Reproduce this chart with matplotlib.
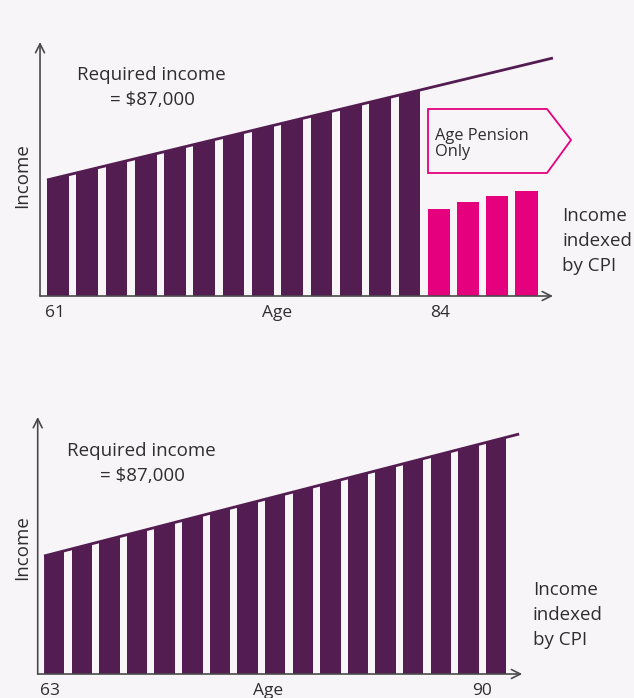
import matplotlib.pyplot as plt
from matplotlib.patches import Polygon

plt.rcParams['font.family'] = ['Open Sans', 'DejaVu Sans']

BG = '#f8f5f9'
PURPLE = '#541d51'
PINK = '#e5007d'
AXIS = '#4a4a4a'
TEXT = '#2e2e2e'

# top panel: retire at 61, savings run out at 84
top_income = [121, 128, 135, 142, 149, 156, 163, 170, 177, 185, 192, 199, 206]
top_pension = [87, 94, 100, 105]
top_line_x = [-0.37, 16.9]
top_line_y = [116, 238]
top_labels = ['61', 'Age', '84']
top_label_pos = [-0.1, 7.5, 13.05]

# bottom panel: retire at 63, income lasts to 90
bot_income = [123, 130, 137, 144, 152, 159, 166, 173, 180, 187, 194, 201, 208,
              215, 222, 230, 237]
bot_line_x = [-0.37, 16.84]
bot_line_y = [118, 240]
bot_labels = ['63', 'Age', '90']
bot_label_pos = [-0.15, 7.75, 15.5]

W, H = 634, 698
fig = plt.figure(figsize=(W / 100, H / 100), dpi=100, facecolor=BG)


def panel(y0, y1, xlim, ylim):
    ax = fig.add_axes([0, 1 - y1 / H, 1, (y1 - y0) / H])
    ax.set_xlim(*xlim)
    ax.set_ylim(*ylim)
    ax.axis('off')
    ax.patch.set_alpha(0)
    return ax


def draw(ax, income, line_x, line_y, axis_x, x_end, y_end, labels, label_pos, width):
    xs = list(range(len(income)))
    bars = ax.bar(xs, income, width=width, color=PURPLE, zorder=2)
    clip = Polygon([(line_x[0], 0), (line_x[0], line_y[0]), (line_x[1], line_y[1]),
                    (line_x[1], 0)], closed=True, transform=ax.transData)
    for b in bars:
        b.set_clip_path(clip)
    ax.plot(line_x, line_y, color=PURPLE, lw=2, solid_capstyle='butt', zorder=3)
    ax.annotate('', xy=(x_end, 0), xytext=(axis_x, 0),
                arrowprops=dict(arrowstyle='->', color=AXIS, lw=1.2,
                                mutation_scale=16, shrinkA=0, shrinkB=0), zorder=4)
    ax.annotate('', xy=(axis_x, y_end), xytext=(axis_x, 0),
                arrowprops=dict(arrowstyle='->', color=AXIS, lw=1.2,
                                mutation_scale=16, shrinkA=0, shrinkB=0), zorder=4)
    for lab, p in zip(labels, label_pos):
        ax.text(p, -17, lab, ha='center', va='center', fontsize=12.5, color=TEXT)


ax1 = panel(30, 330, (-1.973, 19.666), (-34, 266))
draw(ax1, top_income, top_line_x, top_line_y, -0.607, 16.9, 254,
     top_labels, top_label_pos, 0.74)
px = [len(top_income) + i for i in range(len(top_pension))]
ax1.bar(px, top_pension, width=0.76, color=PINK, zorder=2)

ax2 = panel(400, 698, (-1.966, 21.0), (-24, 274))
draw(ax2, bot_income, bot_line_x, bot_line_y, -0.60, 16.95, 257,
     bot_labels, bot_label_pos, 0.74)

# annotations in pixel space
ov = fig.add_axes([0, 0, 1, 1])
ov.set_xlim(0, W)
ov.set_ylim(H, 0)
ov.axis('off')
ov.patch.set_alpha(0)

for cx, y in ((151, 0), (141, 376)):
    ov.text(cx, 75 + y, 'Required income', ha='center', va='center', fontsize=13.5, color=TEXT)
    ov.text(cx + 1, 100 + y, '= $87,000', ha='center', va='center', fontsize=13.5, color=TEXT)

ov.text(22, 176, 'Income', rotation=90, ha='center', va='center', fontsize=13.5, color=TEXT)
ov.text(22, 548, 'Income', rotation=90, ha='center', va='center', fontsize=13.5, color=TEXT)

ov.text(562, 241, 'Income\nindexed\nby CPI', ha='left', va='center', fontsize=13.5,
        color=TEXT, linespacing=1.5)
ov.text(533, 615, 'Income\nindexed\nby CPI', ha='left', va='center', fontsize=13.5,
        color=TEXT, linespacing=1.5)

box = Polygon([(428, 109), (547, 109), (571, 140), (547, 173), (428, 173)], closed=True,
              facecolor=BG, edgecolor=PINK, lw=1.3)
ov.add_patch(box)
ov.text(435, 144, 'Age Pension\nOnly', ha='left', va='center', fontsize=11.8,
        color=TEXT, linespacing=1.0)

fig.savefig('out.png', dpi=100, facecolor=BG)
